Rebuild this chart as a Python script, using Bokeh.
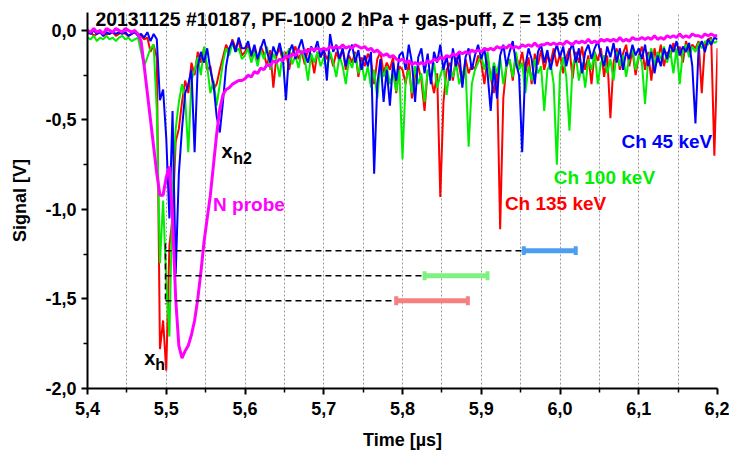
import numpy as np
from bokeh.plotting import figure
from bokeh.models import Label, FixedTicker, Range1d, CustomJSTickFormatter
from bokeh.embed import file_html
from bokeh.resources import INLINE

# ---- time grid (µs), sampling step 0.004 µs ----
time_us = np.round(5.4 + 0.004 * np.arange(201), 3)

# ---- Ch 135 keV (red) ----
ch135 = [
    -0.02,-0.01,-0.03,-0.02,-0.01,-0.03,-0.02,-0.02,-0.01,-0.03,-0.02,-0.01,-0.02,-0.03,-0.02,-0.01,-0.02,-0.03,-0.05,-0.04,-0.12,-0.08,-0.15,-1.78,-1.62,
    -1.90,-1.20,-1.05,-0.62,-0.55,-0.40,-0.28,-0.35,-0.18,-0.25,-0.12,-0.18,-0.10,-0.22,-0.20,-0.33,-0.30,-0.22,-0.15,-0.08,-0.12,-0.05,-0.10,-0.06,-0.14,
    -0.12,-0.08,-0.15,-0.10,-0.18,-0.09,-0.13,-0.20,-0.11,-0.32,-0.14,-0.10,-0.17,-0.12,-0.22,-0.13,-0.09,-0.16,-0.12,-0.19,-0.10,-0.14,-0.24,-0.12,-0.15,
    -0.11,-0.16,-0.13,-0.20,-0.12,-0.17,-0.10,-0.22,-0.14,-0.18,-0.12,-0.26,-0.15,-0.20,-0.13,-0.17,-0.30,-0.16,-0.12,-0.24,-0.18,-0.22,-0.15,-0.35,-0.20,
    -0.22,-0.30,-0.18,-0.38,-0.25,-0.20,-0.28,-0.45,-0.22,-0.26,-0.35,-0.24,-0.93,-0.40,-0.22,-0.18,-0.28,-0.15,-0.20,-0.30,-0.16,-0.24,-0.19,-0.22,-0.14,
    -0.18,-0.30,-0.15,-0.26,-0.35,-0.22,-1.11,-0.38,-0.20,-0.16,-0.28,-0.14,-0.20,-0.12,-0.24,-0.15,-0.30,-0.13,-0.19,-0.11,-0.22,-0.14,-0.18,-0.10,-0.20,
    -0.13,-0.24,-0.15,-0.10,-0.27,-0.12,-0.18,-0.09,-0.22,-0.14,-0.30,-0.12,-0.17,-0.10,-0.26,-0.14,-0.49,-0.18,-0.10,-0.22,-0.13,-0.08,-0.20,-0.11,-0.25,
    -0.14,-0.09,-0.22,-0.12,-0.28,-0.10,-0.18,-0.08,-0.20,-0.12,-0.15,-0.07,-0.14,-0.09,-0.18,-0.06,-0.12,-0.08,-0.10,-0.06,-0.35,-0.08,-0.05,-0.04,-0.70,-0.10,
]

# ---- Ch 100 keV (green) ----
ch100 = [
    -0.04,-0.05,-0.03,-0.06,-0.04,-0.05,-0.03,-0.05,-0.04,-0.06,-0.04,-0.03,-0.05,-0.04,-0.06,-0.05,-0.04,-0.12,-0.20,-0.15,-0.10,-0.08,-0.45,-1.30,-0.95,
    -1.40,-1.71,-0.90,-0.55,-0.40,-0.30,-0.38,-0.68,-0.28,-0.22,-0.15,-0.25,-0.09,-0.20,-0.35,-0.28,-0.42,-0.30,-0.18,-0.10,-0.14,-0.07,-0.12,-0.10,-0.16,
    -0.14,-0.10,-0.18,-0.12,-0.20,-0.11,-0.16,-0.09,-0.22,-0.13,-0.17,-0.26,-0.12,-0.15,-0.10,-0.19,-0.14,-0.21,-0.11,-0.16,-0.28,-0.13,-0.18,-0.12,-0.20,
    -0.15,-0.22,-0.12,-0.18,-0.26,-0.14,-0.20,-0.30,-0.16,-0.21,-0.13,-0.24,-0.18,-0.28,-0.20,-0.32,-0.22,-0.38,-0.19,-0.26,-0.20,-0.30,-0.24,-0.34,-0.22,
    -0.72,-0.28,-0.22,-0.35,-0.20,-0.30,-0.24,-0.40,-0.22,-0.28,-0.18,-0.32,-0.25,-0.20,-0.36,-0.22,-0.26,-0.18,-0.30,-0.24,-0.20,-0.65,-0.30,-0.22,-0.18,
    -0.14,-0.22,-0.12,-0.28,-0.18,-0.24,-0.15,-0.30,-0.20,-0.16,-0.26,-0.12,-0.22,-0.18,-0.35,-0.20,-0.28,-0.16,-0.24,-0.20,-0.45,-0.22,-0.18,-0.30,-0.75,
    -0.24,-0.15,-0.26,-0.56,-0.20,-0.14,-0.28,-0.18,-0.32,-0.16,-0.22,-0.12,-0.30,-0.18,-0.14,-0.24,-0.16,-0.28,-0.12,-0.20,-0.14,-0.26,-0.15,-0.10,-0.22,
    -0.14,-0.18,-0.41,-0.16,-0.10,-0.20,-0.12,-0.16,-0.09,-0.18,-0.11,-0.24,-0.10,-0.30,-0.12,-0.08,-0.15,-0.09,-0.12,-0.07,-0.10,-0.06,-0.08,-0.05,-0.07,-0.06,
]

# ---- Ch 45 keV (blue) ----
ch45 = [
    -0.01,-0.02,0.00,-0.02,-0.01,-0.03,-0.01,-0.02,-0.01,-0.02,-0.01,-0.02,-0.01,-0.03,-0.02,-0.01,-0.03,-0.02,-0.04,-0.01,-0.06,-0.02,-0.05,-0.39,-0.33,
    -0.60,-1.05,-0.45,-1.36,-0.80,-0.55,-0.35,-0.30,-0.22,-0.68,-0.20,-0.12,-0.18,-0.10,-0.22,-0.30,-0.48,-0.57,-0.40,-0.20,-0.10,-0.06,-0.12,-0.04,-0.10,
    -0.10,-0.06,-0.14,-0.08,-0.16,-0.10,-0.05,-0.12,-0.18,-0.09,-0.14,-0.07,-0.15,-0.39,-0.12,-0.08,-0.16,-0.10,-0.05,-0.13,-0.18,-0.09,-0.12,-0.06,-0.15,
    -0.10,-0.28,-0.02,-0.12,-0.08,-0.16,-0.10,-0.20,-0.12,-0.08,-0.18,-0.11,-0.22,-0.14,-0.20,-0.12,-0.80,-0.30,-0.16,-0.40,-0.22,-0.42,-0.18,-0.28,-0.14,
    -0.12,-0.22,-0.08,-0.18,-0.40,-0.15,-0.10,-0.24,-0.13,-0.30,-0.12,-0.18,-0.08,-0.22,-0.14,-0.28,-0.10,-0.20,-0.12,-0.32,-0.15,-0.10,-0.22,-0.14,-0.08,
    -0.16,-0.10,-0.24,-0.45,-0.20,-0.38,-0.14,-0.08,-0.20,-0.12,-0.06,-0.18,-0.25,-0.68,-0.20,-0.10,-0.16,-0.30,-0.12,-0.08,-0.18,-0.11,-0.22,-0.14,-0.08,
    -0.15,-0.09,-0.20,-0.12,-0.07,-0.18,-0.10,-0.24,-0.12,-0.08,-0.16,-0.10,-0.06,-0.14,-0.20,-0.09,-0.15,-0.07,-0.18,-0.10,-0.22,-0.12,-0.16,-0.08,-0.14,
    -0.10,-0.16,-0.08,-0.20,-0.12,-0.24,-0.14,-0.20,-0.10,-0.16,-0.08,-0.12,-0.06,-0.14,-0.09,-0.12,-0.07,-0.20,-0.52,-0.10,-0.06,-0.12,-0.05,-0.08,-0.04,-0.05,
]

# ---- N probe (magenta) ----
n_probe = [
    0.00,-0.01,0.01,-0.01,0.00,-0.02,0.01,0.00,-0.01,0.01,0.00,-0.01,0.01,0.00,-0.01,0.00,-0.02,-0.06,-0.20,-0.35,-0.50,-0.65,-0.80,-0.92,-0.92,
    -0.82,-0.76,-1.05,-1.50,-1.76,-1.83,-1.79,-1.76,-1.70,-1.62,-1.50,-1.35,-1.18,-1.05,-0.92,-0.75,-0.58,-0.44,-0.36,-0.33,-0.32,-0.30,-0.29,-0.28,-0.28,
    -0.27,-0.25,-0.26,-0.23,-0.24,-0.21,-0.22,-0.19,-0.20,-0.17,-0.18,-0.16,-0.17,-0.14,-0.15,-0.13,-0.14,-0.11,-0.13,-0.11,-0.12,-0.10,-0.11,-0.10,-0.11,
    -0.10,-0.11,-0.09,-0.10,-0.09,-0.10,-0.08,-0.10,-0.09,-0.10,-0.08,-0.09,-0.10,-0.09,-0.11,-0.10,-0.12,-0.11,-0.13,-0.14,-0.13,-0.15,-0.14,-0.16,-0.17,
    -0.16,-0.18,-0.17,-0.19,-0.18,-0.19,-0.18,-0.19,-0.17,-0.18,-0.16,-0.17,-0.15,-0.16,-0.14,-0.15,-0.13,-0.14,-0.12,-0.13,-0.12,-0.13,-0.11,-0.12,-0.11,
    -0.12,-0.10,-0.11,-0.10,-0.11,-0.09,-0.10,-0.09,-0.10,-0.08,-0.10,-0.09,-0.10,-0.08,-0.09,-0.08,-0.09,-0.07,-0.09,-0.08,-0.08,-0.07,-0.08,-0.07,-0.08,
    -0.07,-0.08,-0.06,-0.07,-0.08,-0.06,-0.07,-0.06,-0.07,-0.05,-0.07,-0.06,-0.07,-0.05,-0.06,-0.05,-0.06,-0.05,-0.06,-0.04,-0.06,-0.05,-0.06,-0.04,-0.05,
    -0.05,-0.04,-0.05,-0.04,-0.05,-0.03,-0.05,-0.04,-0.05,-0.03,-0.04,-0.03,-0.04,-0.02,-0.04,-0.03,-0.04,-0.02,-0.03,-0.03,-0.04,-0.02,-0.03,-0.02,-0.03,-0.03,
]

# ---- time windows (error bars) ----
window_names = ["Ch 45 keV", "Ch 100 keV", "Ch 135 keV"]
window_y = [-1.23, -1.37, -1.51]
window_start = [5.954, 5.828, 5.792]
window_end = [6.020, 5.908, 5.883]
window_colors = ["#4c9ff0", "#80f080", "#f58080"]
x_h_time = 5.499
x_h_span = [-1.19, -1.53]

# ---- axes ----
x_ticks = [5.4, 5.5, 5.6, 5.7, 5.8, 5.9, 6.0, 6.1, 6.2]
x_minor_ticks = [5.45, 5.55, 5.65, 5.75, 5.85, 5.95, 6.05, 6.15]
x_grid = [5.45, 5.5, 5.55, 5.6, 5.65, 5.7, 5.75, 5.8, 5.85, 5.9, 5.95, 6.0, 6.05, 6.1, 6.15]
y_ticks = [-2.0, -1.5, -1.0, -0.5, 0.0]
y_minor_ticks = [-1.75, -1.25, -0.75, -0.25]

FONT = "Liberation Sans"

p = figure(frame_width=630, frame_height=376,
           x_range=Range1d(5.4, 6.2), y_range=Range1d(-2.0, 0.1),
           output_backend="svg", toolbar_location=None,
           min_border_left=87, min_border_right=12, min_border_top=12, min_border_bottom=60,
           x_axis_label="Time [µs]", y_axis_label="Signal [V]")
p.outline_line_color = None
p.background_fill_color = "white"

p.xaxis.ticker = FixedTicker(ticks=x_ticks, minor_ticks=x_minor_ticks)
p.yaxis.ticker = FixedTicker(ticks=y_ticks, minor_ticks=y_minor_ticks)
fmt = CustomJSTickFormatter(code="return tick.toFixed(1).replace('.', ',');")
p.xaxis.formatter = fmt
p.yaxis.formatter = fmt

p.xgrid.ticker = FixedTicker(ticks=x_grid)
p.xgrid.grid_line_color = "#9a9a9a"
p.xgrid.grid_line_dash = "2 2"
p.xgrid.grid_line_width = 1
p.ygrid.visible = False

for ax in (p.xaxis, p.yaxis):
    ax.axis_line_width = 2
    ax.axis_line_color = "black"
    ax.major_tick_line_width = 2
    ax.major_tick_out = 6
    ax.major_tick_in = 0
    ax.minor_tick_line_width = 1.5
    ax.minor_tick_out = 4
    ax.minor_tick_in = 0
    ax.major_label_text_font = FONT
    ax.major_label_text_font_style = "bold"
    ax.major_label_text_font_size = "18px"
    ax.major_label_text_color = "black"
    ax.axis_label_text_font = FONT
    ax.axis_label_text_font_style = "bold"
    ax.axis_label_text_font_size = "18px"
    ax.axis_label_text_color = "black"

p.xaxis.major_label_standoff = 7
p.xaxis.axis_label_standoff = 12
p.yaxis.major_label_standoff = 5
p.yaxis.axis_label_standoff = 12

# ---- signals ----
p.line(time_us[:len(ch135)], ch135, line_color="#ff0000", line_width=2)
p.line(time_us[:len(ch100)], ch100, line_color="#00ee00", line_width=2)
p.line(time_us[:len(ch45)], ch45, line_color="#0000ff", line_width=2)
p.line(time_us[:len(n_probe)], n_probe, line_color="#ff00ff", line_width=3)

# ---- dashed markers ----
p.segment(x0=[x_h_time] * len(window_y), y0=window_y, x1=window_start, y1=window_y,
          line_color="black", line_width=1.5, line_dash="6 4")
p.segment(x0=[x_h_time], y0=[x_h_span[0]], x1=[x_h_time], y1=[x_h_span[1]],
          line_color="black", line_width=1.5, line_dash="6 4")

# ---- window bars with caps ----
wy = np.array(window_y)
p.segment(x0=window_start, y0=window_y, x1=window_end, y1=window_y,
          line_color=window_colors, line_width=5)
p.segment(x0=window_start, y0=list(wy - 0.025), x1=window_start, y1=list(wy + 0.025),
          line_color=window_colors, line_width=4)
p.segment(x0=window_end, y0=list(wy - 0.025), x1=window_end, y1=list(wy + 0.025),
          line_color=window_colors, line_width=4)

# ---- texts ----
def add_label(x, y, text, color="black", size="19px", style="bold"):
    p.add_layout(Label(x=x, y=y, text=text, text_color=color, text_font=FONT,
                       text_font_size=size, text_font_style=style,
                       text_baseline="alphabetic", text_align="left"))

add_label(5.410, 0.061, "20131125 #10187, PF-1000 2 hPa + gas-puff, Z = 135 cm", size="19.4px")
add_label(6.078, -0.621, "Ch 45 keV", "#0000ff")
add_label(5.992, -0.822, "Ch 100 keV", "#00ee00")
add_label(5.930, -0.968, "Ch 135 keV", "#ff0000")
add_label(5.5595, -0.973, "N probe", "#ff00ff")
add_label(5.570, -0.671, "x", size="20px")
add_label(5.585, -0.716, "h2", size="16px")
add_label(5.472, -1.829, "x", size="20px")
add_label(5.486, -1.868, "h", size="16px")

open("out.html", "w").write(file_html(p, INLINE))
